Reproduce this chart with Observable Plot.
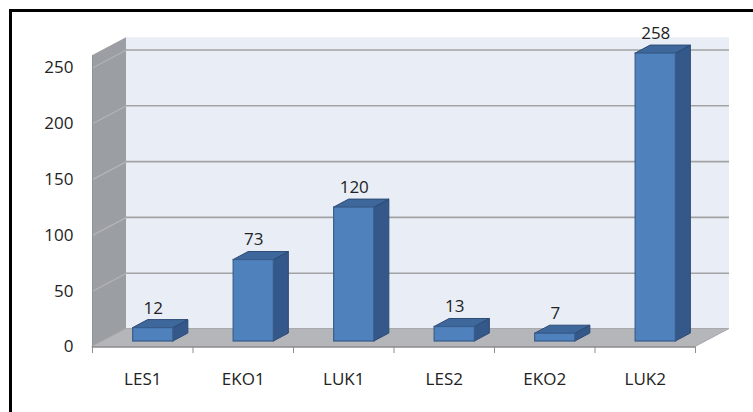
<!DOCTYPE html>
<html>
<head>
<meta charset="utf-8">
<script src="https://cdn.jsdelivr.net/npm/d3@7"></script>
<script src="https://cdn.jsdelivr.net/npm/@observablehq/plot@0.6"></script>
<style>
  html, body { margin: 0; padding: 0; background: #fff; }
  #wrap { position: relative; width: 753px; height: 412px; overflow: hidden; }
  #frame { position: absolute; left: 9px; top: 9px; right: -10px; bottom: -10px;
           border-left: 3px solid #000; border-top: 3px solid #000; pointer-events: none; }
</style>
</head>
<body>
<div id="wrap"><div id="frame"></div></div>
<script>
const categories = ["LES1", "EKO1", "LUK1", "LES2", "EKO2", "LUK2"];
const values = [12, 73, 120, 13, 7, 258];
const yTicks = [0, 50, 100, 150, 200, 250];

const W = 753, H = 412;
const mL = 92, mR = 58, mT = 67.5, mB = 65.5;
const yMax = 250, wallTop = 261;
const n = categories.length;
// pixel -> data unit conversions
const kx = n / (W - mL - mR);
const ky = yMax / (H - mT - mB);
// wall depth (oblique projection) and bar depth, in pixels
const depthPx = [34, 18];
const barDepthPx = [15, 8];
const barShift = [10.5, -5.5];
const DX = depthPx[0] * kx, DY = depthPx[1] * ky;
const BX = barDepthPx[0] * kx, BY = barDepthPx[1] * ky;

const data = categories.map((c, i) => ({c, i, v: values[i]}));
const x0 = i => i + 0.3, x1 = i => i + 0.7;

const sideFaces = data.flatMap(d => [
  {i: d.i, x: x1(d.i), y1: 0, y2: d.v},
  {i: d.i, x: x1(d.i) + BX, y1: BY, y2: d.v + BY}
]);
const topFaces = data.flatMap(d => [
  {i: d.i, y: d.v, x1: x0(d.i), x2: x1(d.i)},
  {i: d.i, y: d.v + BY, x1: x0(d.i) + BX, x2: x1(d.i) + BX}
]);
const floor = [
  {y: 0, x1: 0, x2: n},
  {y: DY, x1: DX, x2: n + DX}
];
const sideWall = [
  {x: 0, y1: 0, y2: wallTop},
  {x: DX, y1: DY, y2: wallTop + DY}
];

const chart = Plot.plot({
  width: W, height: H,
  marginLeft: mL, marginRight: mR, marginTop: mT, marginBottom: mB,
  x: {domain: [0, n]},
  y: {domain: [0, yMax]},
  style: {fontFamily: "'Open Sans', sans-serif", fontSize: "17px", color: "#222", background: "transparent"},
  marks: [
    // back wall
    Plot.rect([0], {x1: 0, x2: n, y1: 0, y2: wallTop, dx: depthPx[0], dy: -depthPx[1], fill: "#e9eef6"}),
    Plot.ruleY(yTicks.filter(t => t > 0), {x1: 0, x2: n, dx: depthPx[0], dy: -depthPx[1], stroke: "#a2a2a2", strokeWidth: 1.6}),
    // side wall
    Plot.areaY(sideWall, {x: "x", y1: "y1", y2: "y2", fill: "#9b9ea2"}),
    Plot.link(yTicks, {x1: 0, y1: d => d, x2: DX, y2: d => d + DY, stroke: "#b3b5b8", strokeWidth: 1.2}),
    Plot.ruleX([0], {y1: 0, y2: wallTop, stroke: "#8e9195", strokeWidth: 1}),
    // floor
    Plot.areaX(floor, {y: "y", x1: "x1", x2: "x2", fill: "#b4b6b9", stroke: "#a7a9ac", strokeWidth: 1}),
    Plot.ruleY([0], {x1: 0, x2: n, stroke: "#8f8f8f", strokeWidth: 1.5}),
    // category boundary ticks
    Plot.axisX(d3.range(n + 1), {tickSize: 6.5, tickFormat: () => "", stroke: "#8f8f8f", label: null}),
    // bars: side, top, front
    Plot.areaY(sideFaces, {x: "x", y1: "y1", y2: "y2", z: "i", dx: barShift[0], dy: barShift[1],
      fill: "#34588a", stroke: "#2c4b75", strokeWidth: 1}),
    Plot.areaX(topFaces, {y: "y", x1: "x1", x2: "x2", z: "i", dx: barShift[0], dy: barShift[1],
      fill: "#3e689c", stroke: "#2c4b75", strokeWidth: 1}),
    Plot.rect(data, {x1: d => x0(d.i), x2: d => x1(d.i), y1: 0, y2: "v", dx: barShift[0], dy: barShift[1],
      fill: "#4f81bd", stroke: "#385d8a", strokeWidth: 1.2}),
    // value labels
    Plot.text(data, {x: d => d.i + 0.5, y: "v", text: d => String(d.v), dx: barShift[0], dy: barShift[1] - 20,
      fill: "#222", fontSize: 17}),
    // axes
    Plot.axisY(yTicks, {tickSize: 0, tickPadding: 19, fontSize: 17, label: null}),
    Plot.axisX(d3.range(n).map(i => i + 0.5), {tickSize: 0, tickPadding: 26, fontSize: 17, label: null,
      tickFormat: d => categories[Math.floor(d)]})
  ]
});
document.getElementById("wrap").prepend(chart);
</script>
</body>
</html>
